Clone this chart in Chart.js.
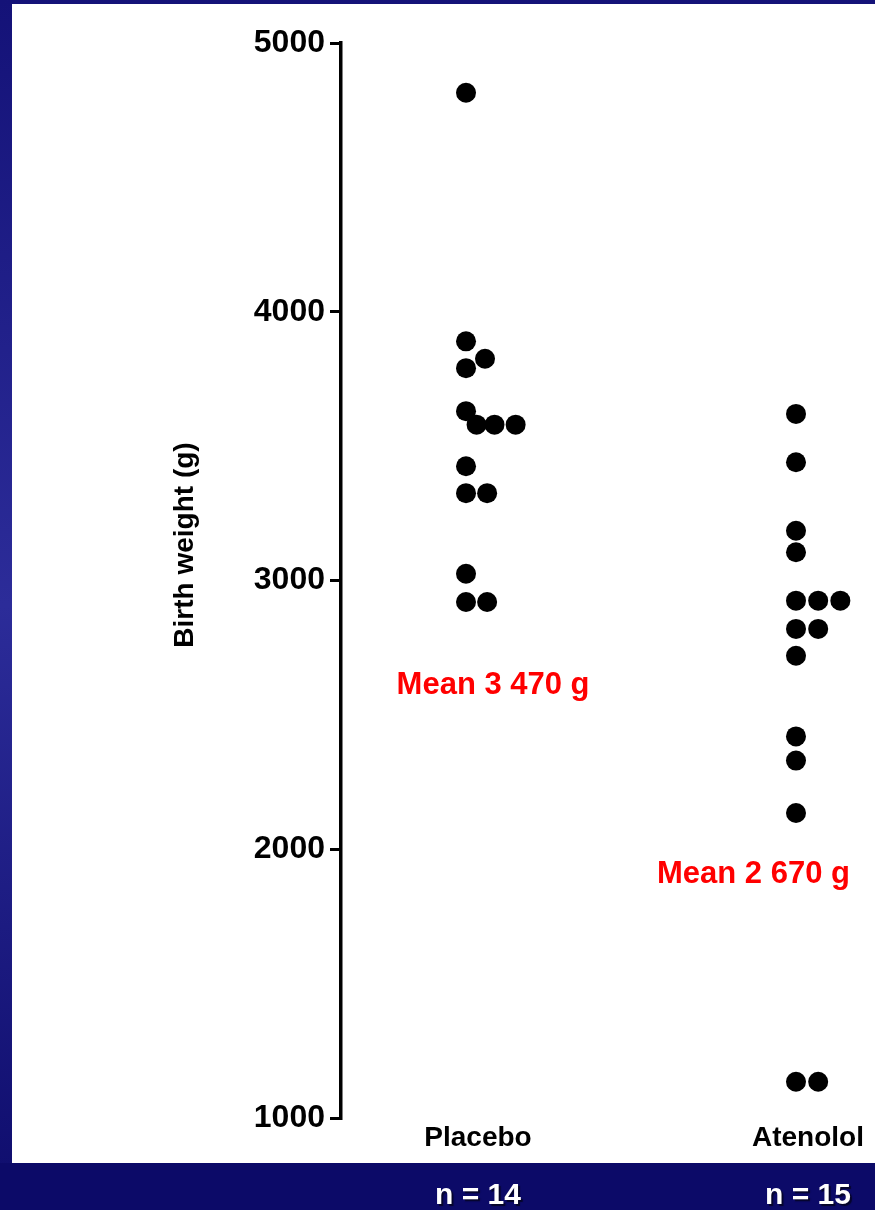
<!DOCTYPE html>
<html><head><meta charset="utf-8">
<script src="https://cdn.jsdelivr.net/npm/chart.js@4.4.1/dist/chart.umd.min.js"></script>
<style>html,body{margin:0;padding:0;background:#0c0a68;}canvas{display:block}</style>
</head><body>
<canvas id="c" width="875" height="1210" style="width:875px;height:1210px"></canvas>
<script>
// ---- data ----
const categories = ['Placebo', 'Atenolol'];
const sampleSizes = [14, 15];
const meanWeights = [3470, 2670];
const placeboWeights = [4815, 3890, 3825, 3790, 3630, 3580, 3580, 3580, 3425, 3325, 3325, 3025, 2920, 2920];
const placeboSwarmColumn = [0, 0, 0.9, 0, 0, 0.5, 1.35, 2.35, 0, 0, 1, 0, 0, 1];
const atenololWeights = [3620, 3440, 3185, 3105, 2925, 2925, 2925, 2820, 2820, 2720, 2420, 2330, 2135, 1135, 1135];
const atenololSwarmColumn = [0, 0, 0, 0, 0, 1.05, 2.1, 0, 1.05, 0, 0, 0, 0, 0, 1.05];
const yTickValues = [1000, 2000, 3000, 4000, 5000];
const yAxisTitle = 'Birth weight (g)';

// ---- chart building ----
Chart.defaults.font.family = 'Arial, "Liberation Sans", Helvetica, sans-serif';
const SLOT = 0.064;
const toPoints = (vals, cols, g) => vals.map((v, i) => ({x: g + cols[i] * SLOT, y: v}));
const fmt = v => String(v).replace(/\B(?=(\d{3})+(?!\d))/g, ' ');
const meanAnchors = [{x: 1.082, y: 2608}, {x: 1.871, y: 1905}];

const decor = {
  id: 'decor',
  beforeDraw(chart) {
    const ctx = chart.ctx, W = chart.width, H = chart.height;
    ctx.save();
    const g = ctx.createLinearGradient(0, 0, 0, H);
    g.addColorStop(0, '#141278');
    g.addColorStop(0.5, '#2c2c99');
    g.addColorStop(1, '#0e0c6c');
    ctx.fillStyle = g;
    ctx.fillRect(0, 0, W, H);
    ctx.fillStyle = '#0c0a68';
    ctx.fillRect(0, 1163, W, H - 1163);
    ctx.fillStyle = '#ffffff';
    ctx.fillRect(12, 4, W - 12, 1159);
    ctx.restore();
  },
  afterDraw(chart) {
    const {ctx, scales: {x, y}} = chart;
    ctx.save();
    ctx.translate(185, 545);
    ctx.rotate(-Math.PI / 2);
    ctx.font = 'bold 28px Arial, "Liberation Sans", sans-serif';
    ctx.fillStyle = '#000';
    ctx.textAlign = 'center';
    ctx.textBaseline = 'middle';
    ctx.fillText(yAxisTitle, 0, 0);
    ctx.restore();

    ctx.save();
    ctx.font = 'bold 31px Arial, "Liberation Sans", sans-serif';
    ctx.fillStyle = '#ff0000';
    ctx.textAlign = 'center';
    ctx.textBaseline = 'middle';
    meanWeights.forEach((m, i) => {
      ctx.fillText('Mean ' + fmt(m) + ' g', x.getPixelForValue(meanAnchors[i].x), y.getPixelForValue(meanAnchors[i].y));
    });
    ctx.font = 'bold 30px Arial, "Liberation Sans", sans-serif';
    ctx.fillStyle = '#ffffff';
    ctx.shadowColor = 'rgba(0,0,0,0.6)';
    ctx.shadowOffsetX = 2;
    ctx.shadowOffsetY = 2;
    ctx.shadowBlur = 1;
    sampleSizes.forEach((n, i) => {
      ctx.fillText('n = ' + n, x.getPixelForValue(i + 1) + 12, 1196);
    });
    ctx.restore();
  }
};

new Chart(document.getElementById('c'), {
  type: 'scatter',
  data: {
    datasets: [
      {label: categories[0], data: toPoints(placeboWeights, placeboSwarmColumn, 1),
       backgroundColor: '#000', borderColor: '#000', pointBackgroundColor: '#000', borderWidth: 0, clip: false},
      {label: categories[1], data: toPoints(atenololWeights, atenololSwarmColumn, 2),
       backgroundColor: '#000', borderColor: '#000', pointBackgroundColor: '#000', borderWidth: 0, clip: false}
    ]
  },
  options: {
    responsive: false,
    animation: false,
    devicePixelRatio: 1,
    layout: {autoPadding: false, padding: {top: 43, left: 0, right: 0, bottom: 0}},
    elements: {point: {radius: 10, hoverRadius: 10, pointStyle: 'circle', borderWidth: 0}},
    plugins: {legend: {display: false}, tooltip: {enabled: false}},
    scales: {
      x: {
        type: 'linear', position: 'bottom', min: 0.6212, max: 2.2394,
        afterBuildTicks: s => { s.ticks = categories.map((c, i) => ({value: i + 1})); },
        afterFit: s => { s.height = 92; s.paddingLeft = 0; s.paddingRight = 0; },
        grid: {display: false, drawTicks: false},
        border: {display: false},
        ticks: {
          callback: v => categories[Math.round(v) - 1],
          font: {size: 28, weight: 'bold'}, color: '#000',
          padding: 3, labelOffset: 12, maxRotation: 0, autoSkip: false
        }
      },
      y: {
        type: 'linear', min: 1000, max: 5000,
        afterBuildTicks: s => { s.ticks = yTickValues.map(v => ({value: v})); },
        afterFit: s => { s.width = 341; },
        grid: {drawOnChartArea: false, drawTicks: true, tickLength: 11, lineWidth: 3, color: '#000', tickColor: '#000', tickWidth: 3},
        border: {display: true, color: '#000', width: 3.5},
        ticks: {font: {size: 32, weight: 'bold'}, color: '#000', padding: 5, callback: v => String(v)}
      }
    }
  },
  plugins: [decor]
});
</script>
</body></html>
